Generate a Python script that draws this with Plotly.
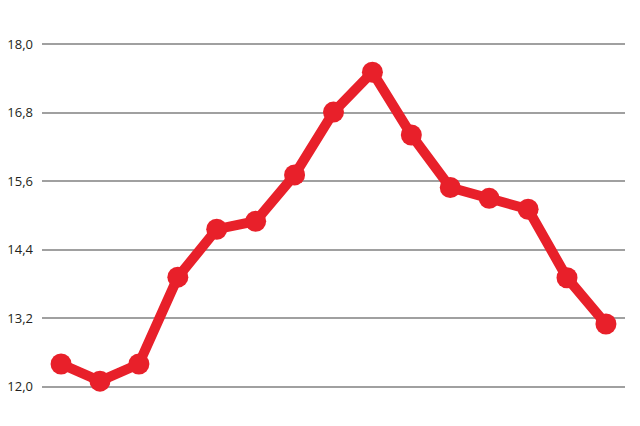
import plotly.graph_objects as go

# values, one point per period
periods = list(range(15))
values = [12.40, 12.10, 12.40, 13.92, 14.76, 14.90, 15.71, 16.81,
          17.51, 16.41, 15.49, 15.30, 15.11, 13.91, 13.10]

tick_vals = [12.0, 13.2, 14.4, 15.6, 16.8, 18.0]
tick_text = ['12,0', '13,2', '14,4', '15,6', '16,8', '18,0']

red = '#e8202a'

fig = go.Figure()
fig.add_scatter(x=periods, y=values,
                mode='lines+markers',
                line=dict(color=red, width=10),
                marker=dict(color=red, size=21),
                cliponaxis=False)

# page body adds ~8px offset, margins compensate for it
fig.update_layout(dict(
    width=640, height=426,
    showlegend=False,
    plot_bgcolor='#ffffff',
    paper_bgcolor='#ffffff',
    margin=dict(l=34, r=23, t=35, b=46),
    font=dict(family='Open Sans', size=13, color='#231f20')))

fig.update_xaxes(range=[-0.49, 14.49],
                 showgrid=False, zeroline=False,
                 showticklabels=False, showline=False,
                 automargin=False)
fig.update_yaxes(range=[11.98, 18.02],
                 tickvals=tick_vals,
                 ticktext=tick_text,
                 ticklabelstandoff=8,
                 automargin=False,
                 gridcolor='#a0a0a0', gridwidth=1.5,
                 zeroline=False, showline=False)

fig.write_html("out.html")
